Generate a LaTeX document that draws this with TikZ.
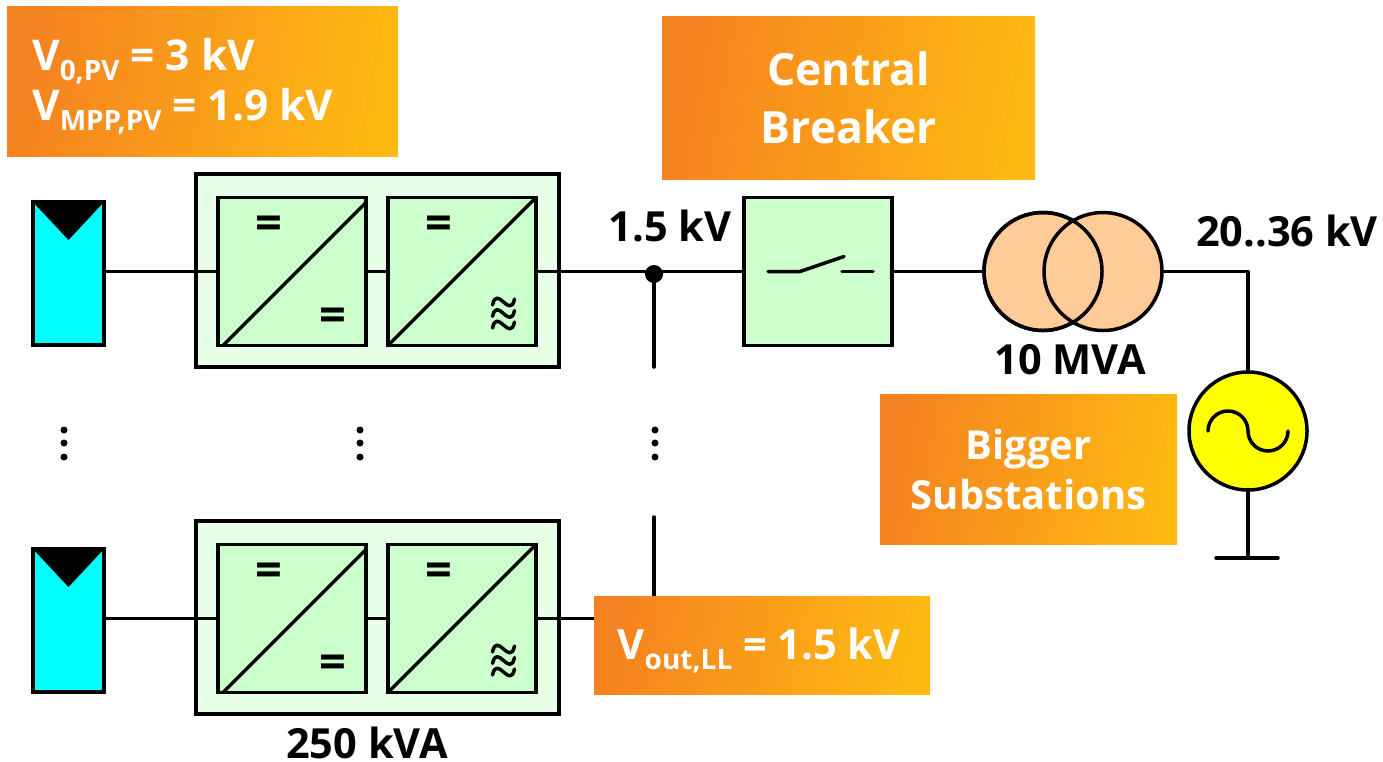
\documentclass[tikz,border=0pt]{standalone}
\usepackage{fontspec}
\setmainfont{Open Sans}
\usepackage{tikz}
\usetikzlibrary{calc}
\definecolor{orangeL}{RGB}{245,130,32}
\definecolor{orangeR}{RGB}{254,185,18}
\definecolor{groupfill}{RGB}{230,255,230}
\definecolor{convfill}{RGB}{204,255,204}
\definecolor{trafofill}{RGB}{255,204,153}
\definecolor{pvfill}{RGB}{0,255,255}
\definecolor{genfill}{RGB}{255,255,0}
\newcommand{\lowsub}[1]{\raisebox{-0.25em}{\fontsize{28}{28}\selectfont #1}}
\tikzset{
  wire/.style={line width=3.5pt,line cap=round,line join=round},
  note/.style={left color=orangeL,right color=orangeR,shading angle=80,text=white,font=\bfseries\fontsize{44.5}{58}\selectfont,inner sep=0pt,anchor=north west},
  label/.style={font=\bfseries\fontsize{41.5}{44}\selectfont,text=black,inner sep=0pt},
  panelbox/.style={draw,line width=3.5pt,fill=pvfill,minimum width=71pt,minimum height=143pt,inner sep=0pt,outer sep=0pt},
  groupbox/.style={draw,line width=3.5pt,fill=groupfill,minimum width=363pt,minimum height=193pt,inner sep=0pt,outer sep=0pt},
  convbox/.style={draw,line width=3.5pt,fill=convfill,minimum width=148pt,minimum height=148pt,inner sep=0pt,outer sep=0pt},
  trafo/.style={circle,draw,line width=3.5pt,minimum size=118pt,inner sep=0pt,outer sep=0pt},
  sign/.style={font=\bfseries\fontsize{47}{47}\selectfont,inner sep=0pt},
  smalldot/.style={circle,fill,minimum size=7pt,inner sep=0pt}
}
\begin{document}
\begin{tikzpicture}[x=1pt,y=-1pt]
\useasboundingbox (0,0) rectangle (1383,761);
\foreach \row/\dy in {a/0,b/347}{
  \node[panelbox] (panel\row) at (68.5,273.5+\dy) {};
  \fill (panel\row.north west) -- (panel\row.north east) -- ($(panel\row.north)+(0,38)$) -- cycle;
  \node[groupbox] (group\row) at (377.5,270.5+\dy) {};
  \node[convbox] (dcdc\row) at (292,271.5+\dy) {};
  \node[convbox] (dcac\row) at (462,271.5+\dy) {};
  \draw[wire] ([xshift=5pt]dcdc\row.south west) -- ([yshift=-5pt]dcdc\row.north east);
  \draw[wire] (dcac\row.south west) -- (dcac\row.north east);
  \node[sign] (eqa\row) at (268.5,228+\dy) {=};
  \node[sign] (eqb\row) at (333,320+\dy) {=};
  \node[sign] (eqc\row) at (438.5,228+\dy) {=};
  \foreach \k in {0,1,2}{
    \draw[wire] (492.5,{305+\k*11.5+\dy}) .. controls (497,{284+\k*11.5+\dy}) and (510,{320+\k*11.5+\dy}) .. (514.5,{299+\k*11.5+\dy});
  }
  \draw[wire] (panel\row.east |- dcdc\row.west) -- (dcdc\row.west);
  \draw[wire] (dcdc\row.east) -- (dcac\row.west);
}
\foreach \xx/\nm in {64/left,360/mid,655/right}{
  \foreach \yy in {430,443,457}{
    \node[smalldot] (dot\nm\yy) at (\xx,\yy) {};
  }
}
\node[convbox] (breaker) at (818,271.5) {};
\coordinate (swa) at (768,271.5);
\coordinate (swb) at (800,271.5);
\coordinate (swc) at (844,256.5);
\coordinate (swd) at (842,271.5);
\coordinate (swe) at (873,271.5);
\draw[wire] (swa) -- (swb) -- (swc);
\draw[wire] (swd) -- (swe);
\node[trafo,fill=trafofill] (trafol) at (1043,271.5) {};
\node[trafo,fill=trafofill] (trafor) at (1103,271.5) {};
\draw[line width=3.5pt] (trafol.center) circle (59pt);
\node[trafo,fill=genfill] (gen) at (1248,431) {};
\draw[wire] (1208,431) arc (180:360:20) arc (180:0:20);
\coordinate (gnd) at (1248,558);
\coordinate (gndl) at (1216,558);
\coordinate (gndr) at (1278,558);
\coordinate (bend) at (gen.north |- trafor.east);
\coordinate (busa) at (654,274);
\coordinate (busb) at (654,367);
\coordinate (busc) at (654,517);
\coordinate (busd) at (654,600);
\draw[wire] (dcaca.east) -- (breaker.west);
\draw[wire] (breaker.east) -- (trafol.west);
\draw[wire] (trafor.east) -- (bend) -- (gen.north);
\draw[wire] (gen.south) -- (gnd);
\draw[wire] (gndl) -- (gndr);
\draw[wire] (busa) -- (busb);
\draw[wire] (busc) -- (busd);
\draw[wire] (dcacb.east) -- ++(60,0) coordinate (buse);
\fill (busa) circle (9pt);
\node[label] (lblbus) at (670,226) {1.5 kV};
\node[label] (lblgrid) at (1287,231) {20..36 kV};
\node[label] (lbltrafo) at (1070,360) {10 MVA};
\node[label] (lblconv) at (367,743) {250 kVA};
\node[note,minimum width=391pt,minimum height=150pt] (notepv) at (7,6) {};
\node[text=white,font=\bfseries\fontsize{42.4}{50}\selectfont,align=left,inner sep=0pt,anchor=west] (notepvtxt) at (notepv.west) [xshift=25pt,yshift=-5pt] {V\lowsub{0,PV} = 3 kV\\V\lowsub{MPP,PV} = 1.9 kV};
\node[note,minimum width=373pt,minimum height=163pt,align=center] (notebreaker) at (662,16) {Central\\Breaker};
\node[note,minimum width=297pt,minimum height=150pt,align=center,font=\bfseries\fontsize{40}{50}\selectfont] (notesub) at (880,394) {Bigger\\Substations};
\node[note,minimum width=336pt,minimum height=98pt] (noteout) at (594,596) {};
\node[text=white,font=\bfseries\fontsize{41.6}{50}\selectfont,inner sep=0pt] (noteouttxt) at (noteout.center) [xshift=-3pt,yshift=-5pt] {V\lowsub{out,LL} = 1.5 kV};
\end{tikzpicture}
\end{document}
